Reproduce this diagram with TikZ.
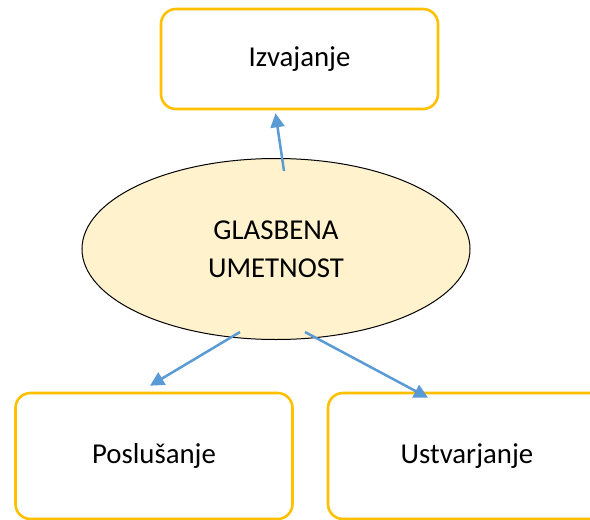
\documentclass[tikz,border=0pt]{standalone}
\usepackage{fontspec}
\setmainfont{Carlito}
\usetikzlibrary{shapes.geometric,arrows.meta}
\definecolor{boxgold}{HTML}{FFC000}
\definecolor{linkblue}{HTML}{5B9BD5}
\definecolor{ellfill}{HTML}{FFF2CC}
\tikzset{
  topic/.style={draw=boxgold, line width=2.6pt, rounded corners=15pt, fill=white,
    minimum width=277pt, inner sep=0pt, font=\fontsize{28.8}{38}\selectfont},
  link/.style={linkblue, line width=2.5pt, -{Triangle[length=14pt,width=14pt]}}
}
\begin{document}
\begin{tikzpicture}[x=1pt, y=-1pt]
    \useasboundingbox (0,0) rectangle (590,520);
    % central topic
    \node[ellipse, draw=black, line width=1pt, fill=ellfill, minimum width=388pt,
      minimum height=181pt, inner sep=0pt, align=center,
      font=\fontsize{28.8}{38}\selectfont] (ell) at (276,249) {GLASBENA\\UMETNOST};
    % the three activities
    \node[topic, minimum height=100pt] (izv) at (299.5,59) {Izvajanje};
    \node[topic, minimum height=126pt] (pos) at (154,456) {Poslušanje};
    \node[topic, minimum height=126pt, minimum width=278pt] (ust) at (467,456) {Ustvarjanje};
    \draw[link] ([xshift=8pt,yshift=-13pt]ell.north) -- ([xshift=-24pt,yshift=-3pt]izv.south);
    \draw[link] ([xshift=-36pt,yshift=8pt]ell.south) -- ([xshift=-4pt,yshift=6pt]pos.north);
    \draw[link] ([xshift=29pt,yshift=8pt]ell.south) -- ([xshift=-39pt,yshift=-6pt]ust.north);
  \end{tikzpicture}
\end{document}
